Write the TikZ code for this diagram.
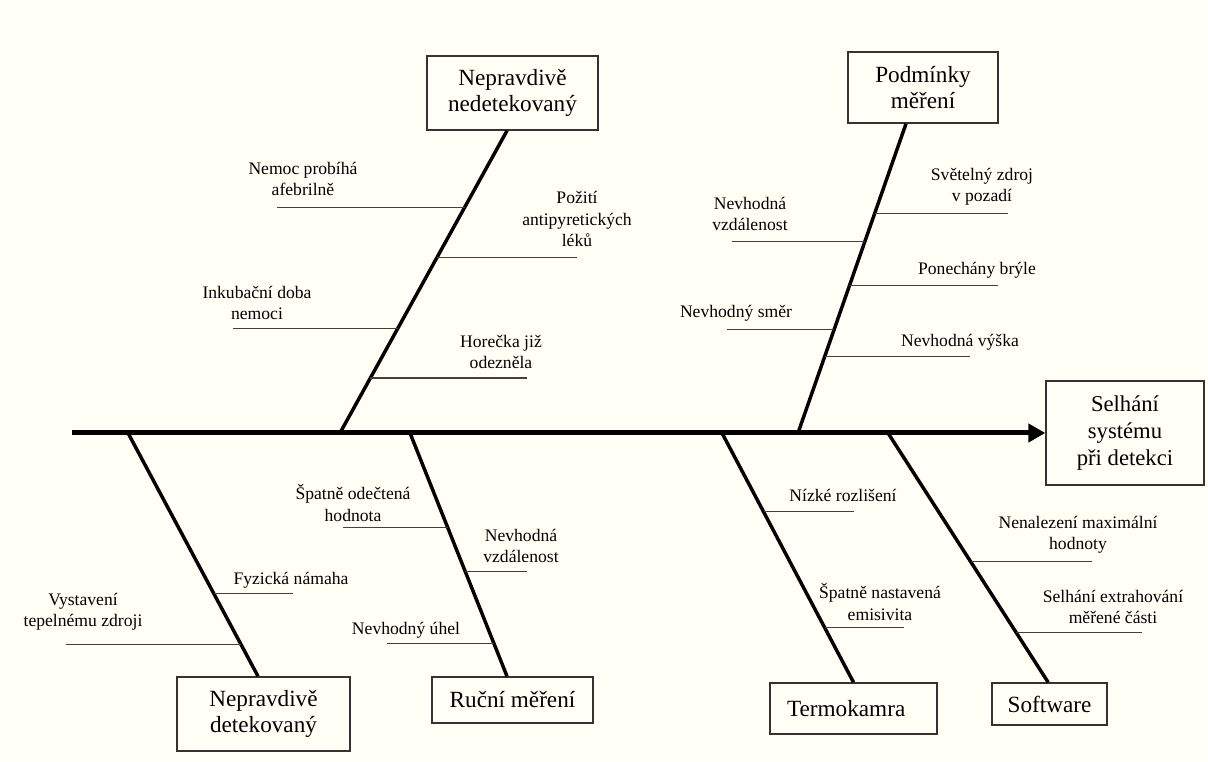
\documentclass[tikz,border=0pt]{standalone}
\usepackage{fontspec}
\setmainfont{Liberation Serif}
\usepackage{tikz}
\usetikzlibrary{arrows.meta,calc}

\begin{document}
\begin{tikzpicture}[x=0.75pt,y=-0.75pt,
  cause/.style={draw=black!80,line width=1pt,fill=paper,align=center,inner sep=0pt,
    font=\fontsize{17.4}{19.8}\selectfont},
  twiglabel/.style={align=center,inner sep=0pt,font=\fontsize{13.2}{15.8}\selectfont},
  spine/.style={line width=3.75pt,-{Triangle[length=12.75pt,width=13.5pt]}},
  bone/.style={line width=2.6pt},
  twig/.style={line width=0.8pt,draw=black!75}]
\definecolor{paper}{HTML}{FFFFF5}

\fill[paper] (0,0) rectangle (1208,762);
\useasboundingbox (0,0) rectangle (1208,762);

% boxes
\node[cause,minimum width=118.5pt,minimum height=78pt,font=\fontsize{17}{20}\selectfont] (effect) at (1125,433) {Selhání\\systému\\při detekci};
\node[cause,minimum width=128.3pt,minimum height=55.5pt] (top1) at (512.5,93) {Nepravdivě\\nedetekovaný};
\node[cause,minimum width=112.5pt,minimum height=53.3pt] (top2) at (923,87.5) {Podmínky\\měření};
\node[cause,minimum width=129.8pt,minimum height=55.5pt] (bot1) at (263.5,714) {Nepravdivě\\detekovaný};
\node[cause,minimum width=120.8pt,minimum height=34.5pt] (bot2) at (512.5,700) {Ruční měření};
\node[cause,minimum width=125.3pt,minimum height=38.3pt] (bot3) at (853.5,708.5) {Termokamra\hspace*{11pt}};
\node[cause,minimum width=86.3pt,minimum height=31.5pt] (bot4) at (1049.5,704) {Software};

% spine
\coordinate (tail) at (72,433);
\coordinate (s1) at (128,433);
\coordinate (s2) at (340,433);
\coordinate (s3) at (410,433);
\coordinate (s4) at (722,433);
\coordinate (s5) at (798,433);
\coordinate (s6) at (888,433);
\draw[spine] (tail) -- (effect.west);

% bones
\coordinate (k1) at ([xshift=-4.1pt]top1.south);
\coordinate (k2) at ([xshift=-12.75pt]top2.south);
\coordinate (k3) at ([xshift=-4.1pt]bot1.north);
\coordinate (k4) at ([xshift=-4.1pt]bot2.north);
\coordinate (k5) at (bot3.north);
\coordinate (k6) at ([xshift=-1pt]bot4.north);
\draw[bone] (s2) -- (k1);
\draw[bone] (s5) -- (k2);
\draw[bone] (s1) -- (k3);
\draw[bone] (s3) -- (k4);
\draw[bone] (s4) -- (k5);
\draw[bone] (s6) -- (k6);

% Nepravdivě nedetekovaný
\draw[twig] ($(s2)!0.746!(k1)$) -- ++(-188,0);
\draw[twig] ($(s2)!0.581!(k1)$) -- ++(140,0);
\draw[twig] ($(s2)!0.347!(k1)$) -- ++(-165,0);
\draw[twig] ($(s2)!0.182!(k1)$) -- ++(157,0);
\node[twiglabel] (a1) at (303,179) {Nemoc probíhá\\afebrilně};
\node[twiglabel] (a2) at (577,219) {Požití\\antipyretických\\léků};
\node[twiglabel] (a3) at (257,303) {Inkubační doba\\nemoci};
\node[twiglabel] (a4) at (501,352) {Horečka již\\odezněla};

% Podmínky měření
\draw[twig] ($(s5)!0.710!(k2)$) -- ++(133,0);
\draw[twig] ($(s5)!0.619!(k2)$) -- ++(-133,0);
\draw[twig] ($(s5)!0.477!(k2)$) -- ++(148,0);
\draw[twig] ($(s5)!0.335!(k2)$) -- ++(-107,0);
\draw[twig] ($(s5)!0.248!(k2)$) -- ++(145,0);
\node[twiglabel] (b1) at (982,187) {Světelný zdroj\\v pozadí};
\node[twiglabel] (b2) at (750,214) {Nevhodná\\vzdálenost};
\node[twiglabel] (b3) at (977,270) {Ponechány brýle};
\node[twiglabel] (b4) at (736,313) {Nevhodný směr};
\node[twiglabel] (b5) at (960,342) {Nevhodná výška};

% Nepravdivě detekovaný
\draw[twig] ($(s1)!0.660!(k3)$) -- ++(79,0);
\draw[twig] ($(s1)!0.869!(k3)$) -- ++(-175,0);
\node[twiglabel] (c1) at (291,580) {Fyzická námaha};
\node[twiglabel] (c2) at (83,612) {Vystavení\\tepelnému zdroji};

% Ruční měření
\draw[twig] ($(s3)!0.389!(k4)$) -- ++(-105,0);
\draw[twig] ($(s3)!0.570!(k4)$) -- ++(62,0);
\draw[twig] ($(s3)!0.865!(k4)$) -- ++(-107,0);
\node[twiglabel] (d1) at (353,503) {Špatně odečtená\\hodnota};
\node[twiglabel] (d2) at (521,546) {Nevhodná\\vzdálenost};
\node[twiglabel] (d3) at (406,630) {Nevhodný úhel};

% Termokamra
\draw[twig] ($(s4)!0.316!(k5)$) -- ++(90,0);
\draw[twig] ($(s4)!0.780!(k5)$) -- ++(79,0);
\node[twiglabel] (e1) at (843,495) {Nízké rozlišení};
\node[twiglabel] (e2) at (880,602) {Špatně nastavená\\emisivita};

% Software
\draw[twig] ($(s6)!0.516!(k6)$) -- ++(121,0);
\draw[twig] ($(s6)!0.800!(k6)$) -- ++(126,0);
\node[twiglabel] (f1) at (1078,535) {Nenalezení maximální\\hodnoty};
\node[twiglabel] (f2) at (1113,607) {Selhání extrahování\\měřené části};
\end{tikzpicture}
\end{document}
